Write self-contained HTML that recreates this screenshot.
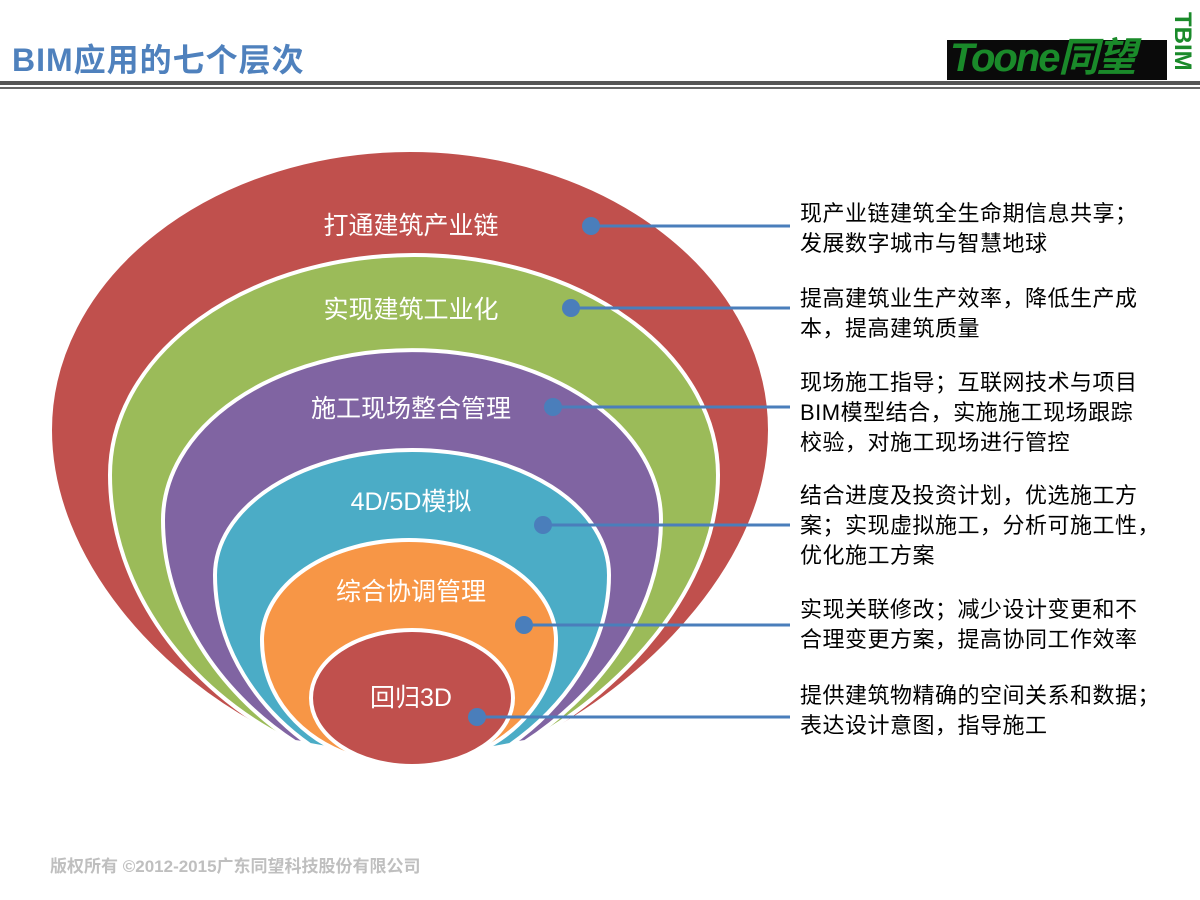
<!DOCTYPE html>
<html><head><meta charset="utf-8"><style>
body{margin:0;width:1200px;height:900px;background:#fff;position:relative;overflow:hidden;font-family:"Liberation Sans","Noto Sans CJK SC",sans-serif}
.t{position:absolute;left:800px;font-size:22px;line-height:30px;color:#000;white-space:nowrap;letter-spacing:0.5px}
</style></head><body>
<div style="position:absolute;left:12px;top:39px;font-size:32px;font-weight:bold;color:#4f81bd;line-height:42px;letter-spacing:1px">BIM应用的七个层次</div>
<div style="position:absolute;left:0;top:81px;width:1200px;height:4px;background:#555"></div>
<div style="position:absolute;left:0;top:87px;width:1200px;height:2px;background:#666"></div>
<div style="position:absolute;left:947px;top:40px;width:220px;height:40px;background:#0a0a0a"></div>
<div style="position:absolute;left:950px;top:36px;font-size:40px;font-style:italic;font-weight:bold;color:#1a8a2a;line-height:44px;letter-spacing:-2px">Toone同望</div>
<div style="position:absolute;top:12px;font-size:24px;font-weight:bold;color:#1a8a2a;transform:rotate(90deg);transform-origin:0 0;left:1195px;line-height:26px">TBIM</div>
<svg width="1200" height="900" style="position:absolute;left:0;top:0">
<g stroke="#fff" stroke-width="4">
<path d="M50,430 A360,280 0 0 1 770,430 C770,560 650,680 545,735 Q410,755 275,735 C160,680 50,560 50,430Z" fill="#c0504d"/>
<path d="M110,475 A304,220 0 0 1 718,475 C718,590 620,690 535,738 Q410,758 285,738 C190,690 110,590 110,475Z" fill="#9bbb59"/>
<path d="M163,520 A249,170 0 0 1 661,520 C661,620 590,700 525,742 Q410,760 295,742 C230,700 163,620 163,520Z" fill="#8064a2"/>
<path d="M215,575 A197,125 0 0 1 609,575 C609,650 560,710 510,745 Q410,765 310,745 C260,710 215,650 215,575Z" fill="#4bacc6"/>
<path d="M262,640 A147,100 0 0 1 556,640 C556,700 510,740 470,755 Q410,770 350,755 C305,740 262,700 262,640Z" fill="#f79646"/>
<ellipse cx="412" cy="698" rx="101" ry="68" fill="#c0504d"/>
</g>
<g fill="#fff" font-size="25" font-family="Liberation Sans,Noto Sans CJK SC,sans-serif" text-anchor="middle">
<text x="411" y="234">打通建筑产业链</text>
<text x="411" y="318">实现建筑工业化</text>
<text x="411" y="417">施工现场整合管理</text>
<text x="411" y="510">4D/5D模拟</text>
<text x="411" y="600">综合协调管理</text>
<text x="411" y="706">回归3D</text>
</g>
<g stroke="#4a7ebb" stroke-width="3" fill="#4a7ebb">
<line x1="591" y1="226" x2="790" y2="226"/><circle cx="591" cy="226" r="9" stroke="none"/>
<line x1="571" y1="308" x2="790" y2="308"/><circle cx="571" cy="308" r="9" stroke="none"/>
<line x1="553" y1="407" x2="790" y2="407"/><circle cx="553" cy="407" r="9" stroke="none"/>
<line x1="543" y1="525" x2="790" y2="525"/><circle cx="543" cy="525" r="9" stroke="none"/>
<line x1="524" y1="625" x2="790" y2="625"/><circle cx="524" cy="625" r="9" stroke="none"/>
<line x1="477" y1="717" x2="790" y2="717"/><circle cx="477" cy="717" r="9" stroke="none"/>
</g>
</svg>
<div class="t" style="top:199px">现产业链建筑全生命期信息共享；<br>发展数字城市与智慧地球</div>
<div class="t" style="top:284px">提高建筑业生产效率，降低生产成<br>本，提高建筑质量</div>
<div class="t" style="top:368px">现场施工指导；互联网技术与项目<br>BIM模型结合，实施施工现场跟踪<br>校验，对施工现场进行管控</div>
<div class="t" style="top:481px">结合进度及投资计划，优选施工方<br>案；实现虚拟施工，分析可施工性，<br>优化施工方案</div>
<div class="t" style="top:595px">实现关联修改；减少设计变更和不<br>合理变更方案，提高协同工作效率</div>
<div class="t" style="top:681px">提供建筑物精确的空间关系和数据；<br>表达设计意图，指导施工</div>
<div style="position:absolute;left:50px;top:852px;font-size:17px;font-weight:bold;color:#bfbfbf">版权所有 ©2012-2015广东同望科技股份有限公司</div>
</body></html>
